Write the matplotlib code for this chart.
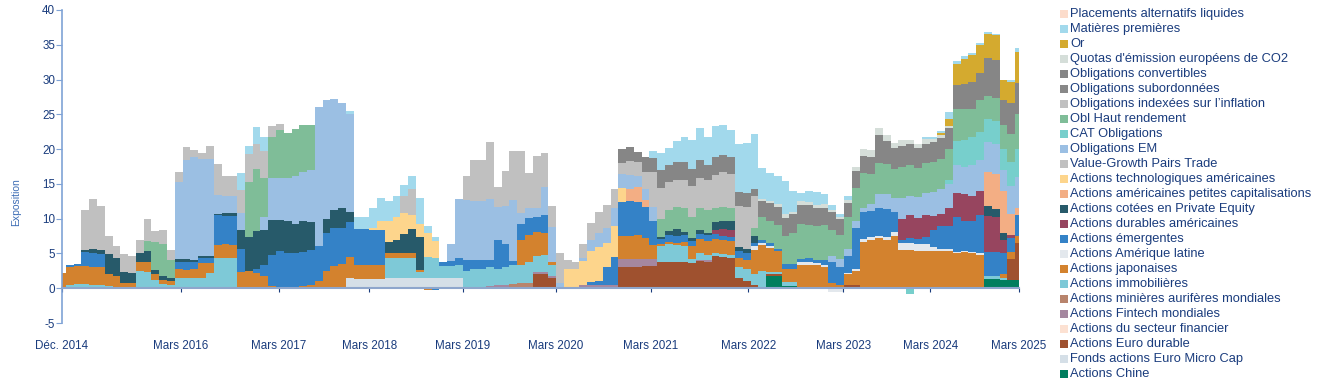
import numpy as np
import matplotlib.pyplot as plt
from matplotlib.patches import Rectangle

# Monthly exposure per asset class, month 0 = Dec. 2014 ... month 123 = Mars 2025
tick_pos = [0, 15.3, 27.9, 39.5, 51.5, 63.5, 75.7, 88.2, 100.4, 111.6, 123]
tick_labels = ['Déc. 2014', 'Mars 2016', 'Mars 2017', 'Mars 2018', 'Mars 2019', 'Mars 2020',
               'Mars 2021', 'Mars 2022', 'Mars 2023', 'Mars 2024', 'Mars 2025']

actions_chine = [
    0, 0, 0, 0, 0, 0, 0, 0, 0, 0, 0, 0, 0, 0, 0, 0, 0, 0, 0, 0,
    0, 0, 0, 0, 0, 0, 0, 0, 0, 0, 0, 0, 0, 0, 0, 0, 0, 0, 0, 0,
    0, 0, 0, 0, 0, 0, 0, 0, 0, 0, 0, 0, 0, 0, 0, 0, 0, 0, 0, 0,
    0, 0, 0, 0, 0, 0, 0, 0, 0, 0, 0, 0, 0, 0, 0, 0, 0, 0, 0, 0,
    0, 0, 0, 0, 0, 0, 0, 0, 0, 0, 0, 1.8, 1.8, .3, .3, 0, 0, 0, 0, 0,
    0, 0, 0, 0, 0, 0, 0, 0, 0, 0, 0, 0, 0, 0, 0, 0, 0, 0, 0, 1.3,
    1.3, 1.2, 1.2, 1.2]
micro_cap = [
    0, 0, 0, 0, 0, 0, 0, 0, 0, 0, 0, 0, 0, 0, 0, 0, 0, 0, 0, 0,
    0, 0, 0, 0, 0, 0, 0, 0, 0, 0, 0, 0, 0, 0, 0, 0, 0, 1.5, 1.3, 1.3,
    1.3, 1.3, 1.5, 1.5, 1.5, 1.5, 1.5, 1.5, 1.5, 1.5, 1.5, 1.5, 0, 0, 0, 0, 0, 0, 0, 0,
    0, 0, 0, 0, 0, 0, 0, 0, 0, 0, 0, 0, 0, 0, 0, 0, 0, 0, 0, 0,
    0, 0, 0, 0, 0, 0, 0, 0, 0, 0, 0, 0, 0, 0, 0, 0, 0, 0, 0, 0,
    0, 0, 0, 0, 0, 0, 0, 0, 0, 0, 0, 0, 0, 0, 0, 0, 0, 0, 0, 0,
    0, 0, 0, 0]
euro_durable = [
    0, 0, 0, 0, 0, 0, 0, 0, 0, 0, 0, 0, 0, 0, 0, 0, 0, 0, 0, 0,
    0, 0, 0, 0, 0, 0, 0, 0, 0, 0, 0, 0, 0, 0, 0, 0, 0, 0, 0, 0,
    0, 0, 0, 0, 0, 0, 0, 0, 0, 0, 0, 0, 0, 0, 0, 0, 0, 0, 0, 0,
    0, 2.0, 2.0, 1.5, 0, 0, 0, 0, 0, 0, 0, 0, 3.0, 3.0, 3.0, 3.2, 3.2, 3.7, 3.8, 3.8,
    3.7, 3.6, 3.9, 3.8, 4.6, 4.5, 4.3, 1.5, 1.0, .5, 0, .2, .2, 0, 0, 0, 0, 0, 0, 0,
    0, .5, .5, .2, 0, .2, 0, 0, 0, 0, 0, 0, 0, 0, 0, 0, 0, 0, 0, 0,
    0, 0, 3.0, 5.3]
secteur_financier = [
    0, 0, 0, 0, 0, 0, 0, 0, 0, 0, 0, 0, 0, 0, 0, 0, 0, 0, 0, 0,
    0, 0, 0, 0, 0, 0, 0, 0, 0, 0, 0, 0, 0, 0, 0, 0, 0, 0, 0, 0,
    0, 0, 0, 0, 0, 0, 0, 0, 0, 0, 0, 0, 0, 0, 0, 0, 0, 0, 0, 0,
    0, 0, 0, 0, 0, 0, 0, 0, 0, 0, 0, 0, 0, 0, 0, 0, 0, 0, 0, 0,
    0, 0, 0, 0, 0, 0, 0, 0, 0, 0, 0, 0, 0, 0, 0, 0, 0, 0, 0, 0,
    0, 0, 0, 0, 0, 0, 0, 0, 0, 0, 0, 0, 0, 0, 0, 0, 0, 0, 0, 0,
    0, 0, 0, 0]
fintech = [
    0, 0, 0, 0, 0, 0, 0, 0, 0, 0, 0, 0, 0, 0, 0, 0, 0, 0, 0, 0,
    0, 0, 0, 0, 0, 0, 0, 0, 0, 0, 0, 0, 0, 0, 0, 0, 0, 0, 0, 0,
    0, 0, 0, 0, 0, 0, 0, 0, 0, 0, 0, 0, 0, 0, 0, .3, .5, .5, 0, 0,
    0, .3, .3, .3, 0, 0, 0, .4, .5, .5, .5, .5, 1.2, 1.2, 1.2, 1.0, 1.0, 0, 0, 0,
    0, 0, .2, .2, 0, 0, 0, 0, 0, 0, 0, 0, 0, 0, 0, 0, 0, 0, 0, 0,
    0, 0, 0, 0, 0, 0, 0, 0, 0, 0, 0, 0, 0, 0, 0, 0, 0, 0, 0, 0,
    0, 0, 0, 0]
minieres = [
    0, 0, 0, 0, 0, 0, 0, 0, 0, 0, 0, 0, 0, 0, 0, 0, 0, 0, 0, 0,
    0, 0, 0, 0, 0, 0, 0, 0, 0, 0, 0, 0, 0, 0, 0, 0, 0, 0, 0, 0,
    0, 0, 0, 0, 0, 0, 0, 0, 0, 0, 0, 0, 0, 0, 0, 0, 0, 0, .6, .8,
    .8, 0, 0, 0, 0, 0, 0, 0, 0, 0, 0, 0, 0, 0, 0, 0, 0, 0, 0, 0,
    0, 0, 0, 0, 0, 0, 0, 0, 0, 0, 0, 0, 0, 0, 0, 0, 0, 0, 0, 0,
    0, 0, 0, 0, 0, 0, 0, 0, 0, 0, 0, 0, 0, 0, 0, 0, 0, 0, 0, 0,
    0, 0, 0, 0]
immobilieres = [
    0, .5, .6, .6, .5, .5, .3, .2, 0, 0, 2.5, 2.4, 1.2, .6, .5, 1.5, 1.5, 1.5, 1.5, 2.2,
    4.3, 4.4, 4.3, 0, 0, 0, 0, 0, 0, 0, 0, 0, 0, 0, 0, 0, 0, 0, 0, 0,
    0, 0, 2.8, 2.9, 2.9, 2.9, .8, 3.0, 2.8, 1.7, 1.7, 1.8, 2.5, 2.7, 2.8, 2.7, 2.2, 2.5, 2.8, 2.6,
    3.0, 2.3, 2.5, 1.5, 0, 0, 0, 0, 0, 0, 0, 0, 0, 0, 0, 0, 0, 2.3, 2.5, 2.4,
    2.4, .6, 1.0, .8, .5, .4, .5, 1.5, 1.8, 1.5, 2.5, .3, .3, .6, .6, 0, 0, 0, 0, 0,
    0, 0, 0, 0, 0, 0, 0, 0, 0, 0, 0, 0, 0, 0, 0, 0, 0, 0, 0, .4,
    .4, .3, 0, 0]
japonaises = [
    2.2, 2.6, 2.6, 2.6, 2.6, 2.6, 1.7, 1.6, .8, .8, 1.2, 1.3, .8, .6, .6, 1.2, 1.1, 1.2, 2.1, 1.4,
    1.9, 1.9, 1.9, 2.3, 2.5, 2.2, 1.8, .3, 0, 0, 0, .3, .5, 1.0, 2.5, 3.2, 3.5, 3.0, 2.1, 2.1,
    2.0, 2.0, .8, .6, .6, .6, .3, -.3, 0, 0, 0, 0, 0, 0, 0, 0, 0, 0, 0, 3.5,
    3.8, 3.5, 3.2, .5, 0, 0, 0, 0, 0, 0, 0, 0, 3.3, 3.3, 3.4, 3.0, 2.0, .3, .3, .3,
    .5, 1.8, 2.0, 2.0, 2.0, 2.0, 2.0, 1.3, 1.3, 3.5, 3.7, 3.5, 3.0, 1.8, 1.8, 3.4, 3.4, 3.3, 3.0, .8,
    .4, 1.5, 2.0, 6.5, 7.0, 7.0, 7.0, 7.5, 5.5, 5.5, 5.4, 5.3, 5.4, 5.3, 5.4, 5.0, 5.2, 5.0, 4.8, 0,
    0, .5, 1.0, 1.0]
amerique_latine = [
    0, 0, 0, 0, 0, 0, 0, 0, 0, 0, 0, 0, 0, 0, 0, 0, 0, 0, 0, 0,
    0, 0, 0, 0, 0, 0, 0, 0, 0, 0, 0, 0, 0, 0, 0, 0, 0, 0, 0, 0,
    0, 0, 0, 0, 0, 0, 0, 0, 0, 0, 0, 0, 0, 0, 0, 0, 0, 0, 0, 0,
    0, 0, 0, 0, 0, 0, 0, 0, 0, 0, 0, 0, 0, 0, 0, 0, 0, 0, 0, 0,
    0, 0, 0, 0, 0, 0, 0, 0, 0, .5, .3, .3, 0, 0, 0, .3, .3, .3, .3, -.6,
    -.5, .2, .3, .4, .3, .3, .4, .6, 1.0, 1.0, .9, 1.0, .5, .4, .3, .2, .2, .2, .2, 0,
    0, 0, 0, 0]
emergentes = [
    0, .3, .3, 2.0, 2.0, 1.8, 0, 0, 0, 0, 0, 0, 0, 0, 0, 1.0, 1.2, 1.0, .8, .8,
    4.3, 4.1, 4.2, 3.4, 0, .5, 1.5, 4.5, 5.3, 5.0, 5.0, 4.9, 5.0, 5.0, 5.5, 5.5, 5.2, 5.0, 5.1, 5.1,
    5.0, 5.0, 0, 0, 0, 0, 0, 0, -.3, .6, .7, 1.0, 1.5, 1.3, 1.2, 1.0, 4.2, 3.3, .5, 2.4,
    2.5, 2.2, 2.5, 0, 0, 0, 0, 0, .4, .6, 2.5, 4.0, 4.9, 5.0, 4.8, 4.5, 3.5, .8, 1.0, 1.0,
    1.0, .8, .7, .8, .7, .6, .6, 1.0, 1.0, .5, .4, .4, .3, .8, .8, .5, .6, .5, .8, 3.0,
    2.6, 2.5, 5.8, 3.8, 3.8, 4.0, 4.0, 2.8, .5, .7, .8, 1.0, 2.5, 3.2, 3.3, 5.0, 4.3, 4.5, 5.5, 3.5,
    3.5, 3.0, 2.0, 3.0]
durables_us = [
    0, 0, 0, 0, 0, 0, 0, 0, 0, 0, 0, 0, 0, 0, 0, 0, 0, 0, 0, 0,
    0, 0, 0, 0, 0, 0, 0, 0, 0, 0, 0, 0, 0, 0, 0, 0, 0, 0, 0, 0,
    0, 0, 0, 0, 0, 0, 0, 0, 0, 0, 0, 0, 0, 0, 0, 0, 0, 0, 0, 0,
    0, 0, 0, 0, 0, 0, 0, 0, 0, 0, 0, 0, 0, 0, 0, 0, 0, 0, 0, 0,
    0, 0, 0, 0, .5, 1.0, 1.0, 0, 0, 0, 0, 0, 0, 0, 0, 0, 0, 0, 0, 0,
    0, 0, 0, 0, 0, 0, 0, 0, 3.0, 3.3, 3.0, 3.2, 2.0, 1.8, 2.5, 3.5, 3.8, 3.5, 3.5, 5.2,
    5.0, 2.0, .5, 0]
private_equity = [
    0, 0, 0, .3, .5, .6, 2.9, 2.6, 1.5, 1.4, 1.3, 1.6, .6, .5, .4, .5, .4, .3, .2, .2,
    .2, .4, .4, 2.6, 4.8, 5.5, 5.0, 5.0, 4.5, 4.6, 4.3, 4.5, 4.0, 0, 2.0, 2.5, 2.8, 1.5, 0, 0,
    0, 0, 1.5, 2.0, 2.8, 3.5, 4.8, 0, 0, 0, 0, 0, 0, 0, 0, 0, 0, 0, 0, 0,
    0, 0, 0, 0, 0, 0, 0, 0, 0, 0, 0, 0, 0, 0, 0, 0, 0, .3, .6, 1.0,
    .5, .4, .5, .4, 1.2, 1.2, 1.2, .6, .6, 1.0, 0, 0, 0, 0, 0, 0, 0, 0, 0, 0,
    0, 0, 0, 0, 0, 0, 0, 0, 0, 0, 0, 0, 0, 0, 0, 0, 0, 0, 0, 1.4,
    1.2, 1.0, 0, 0]
small_caps_us = [
    0, 0, 0, 0, 0, 0, 0, 0, 0, 0, 0, 0, 0, 0, 0, 0, 0, 0, 0, 0,
    0, 0, 0, 0, 0, 0, 0, 0, 0, 0, 0, 0, 0, 0, 0, 0, 0, 0, 0, 0,
    0, 0, 0, 0, 0, 0, 0, 0, 0, 0, 0, 0, 0, 0, 0, 0, 0, 0, 0, 0,
    0, 0, 0, 0, 0, 0, 0, 0, 0, 0, 0, 0, 0, 1.8, 2.2, 1.0, 0, 0, 0, 0,
    0, 0, 0, 0, 0, 0, 0, 0, 0, 0, 0, 0, 0, 0, 0, 0, 0, 0, 0, 0,
    0, 0, 0, 0, 0, 0, 0, 0, 0, 0, 0, 0, 0, 0, 0, 0, 0, 0, 0, 4.9,
    5.0, 6.0, 3.0, 1.0]
tech_us = [
    0, 0, 0, 0, 0, 0, 0, 0, 0, 0, 0, 0, 0, 0, 0, 0, 0, 0, 0, 0,
    0, 0, 0, 0, 0, 0, 0, 0, 0, 0, 0, 0, 0, 0, 0, 0, 0, 0, 0, 0,
    .3, 1.3, 3.0, 3.2, 3.0, 2.0, 1.8, 3.5, 2.5, 0, 0, 0, 0, 0, 0, 0, 0, 0, 0, 0,
    0, 0, 0, 0, 0, 2.8, 2.7, 3.5, 4.5, 4.8, 3.5, 4.5, 2.0, 0, 0, 0, 0, 0, 0, 0,
    0, 0, 0, 0, 0, 0, 0, 0, 0, 0, 0, 0, 0, 0, 0, 0, 0, 0, 0, 0,
    0, 0, 0, 0, 0, 0, 0, 0, 0, 0, 0, 0, 0, 0, 0, 0, 0, 0, 0, 0,
    0, 0, 0, 0]
value_growth = [
    0, 0, 0, 5.8, 7.2, 6.3, 2.6, 1.6, 2.6, 2.5, 2.0, 0, 0, 0, 0, 0, 0, 0, 0, 0,
    0, 0, 0, 0, 0, 0, 0, 0, 0, 0, 0, 0, 0, 0, 0, 0, 0, 0, 0, 0,
    0, 0, 0, 0, 0, 0, 0, 0, 0, 0, 0, 0, 0, 0, 0, 0, 0, 0, 0, 0,
    0, 0, 0, 0, 0, 0, 0, 0, 0, 0, 0, 0, 0, 0, 0, 0, 0, 0, 0, 0,
    0, 0, 0, 0, 0, 0, 0, 0, 0, 0, 0, 0, 0, 0, 0, 0, 0, 0, 0, 0,
    0, 0, 0, 0, 0, 0, 0, 0, 0, 0, 0, 0, 0, 0, 0, 0, 0, 0, 0, 0,
    0, 0, 0, 0]
obligations_em = [
    0, 0, 0, 0, 0, 0, 0, 0, 0, 0, 0, 0, 0, 0, 0, 11.0, 14.3, 14.9, 14.0, 14.0,
    2.7, 2.5, 2.4, 2.5, 0, 0, 2.0, 6.0, 6.0, 6.2, 6.8, 7.0, 7.5, 20.0, 17.0, 16.0, 15.2, 14.0, 0, 0,
    0, 0, 0, 0, 0, 0, 0, 0, 0, 0, 2.5, 8.5, 8.7, 8.5, 8.5, 8.8, 4.8, 5.5, 8.8, 1.5,
    1.5, 1.2, 4.0, 5.0, .8, 0, 0, .5, 1.5, 2.0, 2.2, 2.5, 2.0, 2.0, 1.5, 1.5, 2.0, 0, 0, 0,
    0, 0, 0, 0, 0, 0, 0, 0, 0, 0, 0, 0, 0, 0, 0, 0, 0, 0, 0, .8,
    1.2, 1.0, 1.0, .6, 1.0, 2.0, 2.2, 2.0, 3.0, 2.8, 3.0, 3.2, 3.5, 3.5, 3.5, 4.0, 4.0, 4.5, 4.5, 4.3,
    4.3, 3.0, 4.0, 4.5]
cat_obligations = [
    0, 0, 0, 0, 0, 0, 0, 0, 0, 0, 0, 0, 0, 0, 0, 0, 0, 0, 0, 0,
    0, 0, 0, 0, 0, 0, 0, 0, 0, 0, 0, 0, 0, 0, 0, 0, 0, 0, 0, 0,
    0, 0, 0, 0, 0, 0, 0, 0, 0, 0, 0, 0, 0, 0, 0, 0, 0, 0, 0, 0,
    0, 0, 0, 0, 0, 0, 0, 0, 0, 0, 0, 0, 0, 0, 0, 0, 0, 0, 0, 0,
    0, 0, 0, 0, 0, 0, 0, 0, 0, 0, 0, 0, 0, 0, 0, 0, 0, 0, 0, 0,
    0, 0, 0, 0, 0, 0, 0, 0, 0, -.9, 0, 0, 0, 0, .5, 3.5, 3.8, 4.0, 4.0, 3.3,
    3.3, 3.0, 3.5, 4.0]
haut_rendement = [
    0, 0, 0, 0, 0, 0, 0, 0, 0, 0, 0, 1.5, 4.0, 4.6, 2.5, 0, 0, 0, 0, 0,
    0, 0, 0, 0, 8.0, 9.0, 5.5, 6.0, 7.0, 6.5, 6.8, 6.8, 6.5, 0, 0, 0, 0, 0, 0, 0,
    0, 0, 0, 0, 0, 0, 0, 0, 0, 0, 0, 0, 0, 0, 0, 0, 0, 0, 0, 0,
    0, 0, 0, 0, 0, 0, 0, 0, 0, 0, 0, 0, 0, 0, 0, 0, 0, 2.5, 3.0, 3.2,
    3.5, 3.0, 3.3, 3.2, 2.0, 2.0, 2.0, 0, 0, 1.2, 3.4, 3.2, 3.5, 4.0, 4.5, 5.0, 4.8, 4.8, 5.0, 3.8,
    3.5, 4.5, 4.8, 5.0, 4.3, 4.5, 4.3, 4.2, 4.5, 4.4, 4.2, 4.3, 4.3, 4.4, 4.5, 4.5, 4.5, 4.0, 4.5, 3.3,
    3.3, 3.5, 4.0, 5.0]
indexees_inflation = [
    0, 0, 0, 0, 0, 0, 0, 0, 0, 0, 0, 3.2, 1.6, 2.0, 1.5, 1.5, 1.8, 1.0, .8, 1.8,
    4.4, 2.9, 2.9, 3.3, 4.0, 3.5, 4.0, 1.5, .8, 0, 0, 0, 0, 0, 0, 0, 0, 0, 0, 0,
    0, 0, 0, 0, 2.5, 3.8, 0, 0, 0, 0, 0, 0, 3.5, 6.0, 6.0, 8.2, 2.8, 5.0, 7.0, 9.0,
    5.0, 7.5, 5.0, 3.0, 4.2, 1.2, 1.1, 2.0, 2.5, 3.0, 3.2, 2.8, 1.6, 2.0, 2.0, 2.5, 5.0, 4.5, 4.0, 3.8,
    4.0, 4.5, 4.3, 4.3, 4.8, 5.0, 4.8, 5.9, 6.0, 4.5, 0, 0, 0, 0, 0, 0, 0, 0, 0, 0,
    0, 0, 0, 0, 0, 0, 0, 0, 0, 0, 0, 0, 0, 0, 0, 0, 0, 0, 0, 0,
    0, 0, 0, 0]
subordonnees = [
    0, 0, 0, 0, 0, 0, 0, 0, 0, 0, 0, 0, 0, 0, 0, 0, 0, 0, 0, 0,
    0, 0, 0, 0, 0, 0, 0, 0, 0, 0, 0, 0, 0, 0, 0, 0, 0, 0, 0, 0,
    0, 0, 0, 0, 0, 0, 0, 0, 0, 0, 0, 0, 0, 0, 0, 0, 0, 0, 0, 0,
    0, 0, 0, 0, 0, 0, 0, 0, 0, 0, 0, 0, 0, 0, 0, 0, 0, 0, 0, 0,
    0, 0, 0, 0, 0, 0, 0, 0, 0, 0, 0, 0, 0, 0, 0, 0, 0, 0, 0, 0,
    0, 0, 0, 0, 0, 0, 0, 0, 0, 0, 0, 0, 0, 0, 0, 0, 0, 0, 0, 0,
    0, 0, 0, 0]
convertibles = [
    0, 0, 0, 0, 0, 0, 0, 0, 0, 0, 0, 0, 0, 0, 0, 0, 0, 0, 0, 0,
    0, 0, 0, 0, 0, 0, 0, 0, 0, 0, 0, 0, 0, 0, 0, 0, 0, 0, 0, 0,
    0, 0, 0, 0, 0, 0, 0, 0, 0, 0, 0, 0, 0, 0, 0, 0, 0, 0, 0, 0,
    0, 0, 0, 0, 0, 0, 0, 0, 0, 0, 0, 0, 2.0, 2.0, 1.5, 2.2, 2.0, 2.6, 2.5, 2.6,
    2.6, 2.4, 2.5, 2.2, 2.5, 2.4, 2.4, 2.0, 2.0, 1.0, 2.2, 2.5, 2.6, 2.6, 2.6, 2.8, 2.8, 2.6, 2.5, 2.5,
    2.2, 2.0, 2.5, 2.5, 2.5, 4.0, 3.2, 3.0, 3.0, 3.0, 2.8, 2.8, 2.8, 3.0, 3.0, 3.5, 3.6, 4.0, 4.0, 5.5,
    5.5, 3.5, 4.5, 4.5]
quotas_co2 = [
    0, 0, 0, 0, 0, 0, 0, 0, 0, 0, 0, 0, 0, 0, 0, 0, 0, 0, 0, 0,
    0, 0, 0, 0, 0, 0, 0, 0, 0, 0, 0, 0, 0, 0, 0, 0, 0, 0, 0, 0,
    0, 0, 0, 0, 0, 0, 0, 0, 0, 0, 0, 0, 0, 0, 0, 0, 0, 0, 0, 0,
    0, 0, 0, 0, 0, 0, 0, 0, 0, 0, 0, 0, 0, 0, 0, 0, 0, 0, 0, 0,
    0, 0, 0, 0, 0, 0, 0, 0, 0, 0, .3, .4, .4, .5, .4, .5, .5, .5, .5, .4,
    .3, .5, .6, 1.0, 1.0, 1.0, 1.0, .8, .8, .6, .6, .6, .5, .4, .3, 0, 0, 0, 0, 0,
    0, 0, 0, 0]
gold = [
    0, 0, 0, 0, 0, 0, 0, 0, 0, 0, 0, 0, 0, 0, 0, 0, 0, 0, 0, 0,
    0, 0, 0, 0, 0, 0, 0, 0, 0, 0, 0, 0, 0, 0, 0, 0, 0, 0, 0, 0,
    0, 0, 0, 0, 0, 0, 0, 0, 0, 0, 0, 0, 0, 0, 0, 0, 0, 0, 0, 0,
    0, 0, 0, 0, 0, 0, 0, 0, 0, 0, 0, 0, 0, 0, 0, 0, 0, 0, 0, 0,
    0, 0, 0, 0, 0, 0, 0, 0, 0, 0, 0, 0, 0, 0, 0, 0, 0, 0, 0, 0,
    0, 0, 0, 0, 0, 0, 0, 0, 0, 0, 0, 0, 0, .3, 1.0, 3.0, 3.5, 3.8, 4.0, 3.4,
    3.6, 3.0, 3.0, 4.5]
matieres_premieres = [
    0, 0, 0, 0, 0, 0, 0, 0, 0, 0, 0, 0, 0, 0, 0, 0, 0, 0, 0, 0,
    0, 0, 0, 2.5, 1.2, 2.5, 2.0, 0, 0, 0, 0, 0, 0, 0, 0, 0, 0, .5, 1.8, 1.7,
    3.0, 3.4, 3.0, 3.0, 1.5, 1.8, 3.8, 1.0, .5, 0, 0, 0, 0, 0, 0, 0, 0, 0, 0, 0,
    0, 0, 0, 0, 0, 0, 0, 0, 0, 0, 0, 0, 0, 0, 0, 0, 1.0, 2.5, 2.5, 3.0,
    3.5, 4.2, 4.7, 4.0, 4.5, 4.3, 4.0, 7.0, 7.2, 8.0, 4.5, 4.0, 4.0, 4.8, 3.0, 1.2, 1.6, 1.8, 1.4, .6,
    .5, .5, 0, 0, 0, 0, 0, 0, 0, 0, 0, .3, .3, .3, 1.0, .5, .5, .3, .2, .3,
    .2, 0, .3, .5]
alternatifs = [
    0, 0, 0, 0, 0, 0, 0, 0, 0, 0, 0, 0, 0, 0, 0, 0, 0, 0, 0, 0,
    0, 0, 0, 0, 0, 0, 0, 0, 0, 0, 0, 0, 0, 0, 0, 0, 0, 0, 0, 0,
    0, 0, 0, 0, 0, 0, 0, 0, 0, 0, 0, 0, 0, 0, 0, 0, 0, 0, 0, 0,
    0, 0, 0, 0, 0, 0, 0, 0, 0, 0, 0, 0, 0, 0, 0, 0, 0, 0, 0, 0,
    0, 0, 0, 0, 0, 0, 0, 0, 0, 0, 0, 0, 0, 0, 0, 0, 0, 0, 0, 0,
    0, 0, 0, 0, 0, 0, 0, 0, 0, 0, 0, 0, 0, 0, 0, 0, 0, 0, 0, 0,
    0, 0, 0, 0]

# stacking order, bottom -> top (legend shows it top -> bottom)
series = [
    ('Actions Chine', actions_chine, '#017E5E'),
    ('Fonds actions Euro Micro Cap', micro_cap, '#D5DFE7'),
    ('Actions Euro durable', euro_durable, '#9F512F'),
    ('Actions du secteur financier', secteur_financier, '#FCE1D2'),
    ('Actions Fintech mondiales', fintech, '#A5879F'),
    ('Actions minières aurifères mondiales', minieres, '#B8846C'),
    ('Actions immobilières', immobilieres, '#7EC9D7'),
    ('Actions japonaises', japonaises, '#D3822E'),
    ('Actions Amérique latine', amerique_latine, '#E3E8ED'),
    ('Actions émergentes', emergentes, '#3482C7'),
    ('Actions durables américaines', durables_us, '#97455F'),
    ('Actions cotées en Private Equity', private_equity, '#275A6A'),
    ('Actions américaines petites capitalisations', small_caps_us, '#F3AE84'),
    ('Actions technologiques américaines', tech_us, '#FDD58C'),
    ('Value-Growth Pairs Trade', value_growth, '#C0C0C0'),
    ('Obligations EM', obligations_em, '#9BBFE3'),
    ('CAT Obligations', cat_obligations, '#77CFCC'),
    ('Obl Haut rendement', haut_rendement, '#7FBD98'),
    ('Obligations indexées sur l’inflation', indexees_inflation, '#C0C0C0'),
    ('Obligations subordonnées', subordonnees, '#888888'),
    ('Obligations convertibles', convertibles, '#868686'),
    ("Quotas d'émission européens de CO2", quotas_co2, '#D5DED9'),
    ('Or', gold, '#D4AA2F'),
    ('Matières premières', matieres_premieres, '#A2D9EC'),
    ('Placements alternatifs liquides', alternatifs, '#FCDCCB'),
]

text_col = '#1A3C7D'
plt.rcParams['font.family'] = ['Liberation Sans', 'DejaVu Sans']
plt.rcParams['axes.unicode_minus'] = False

n = len(actions_chine)
months = np.arange(n)
for name, vals, col in series:
    assert len(vals) == n, name

fig = plt.figure(figsize=(13.25, 3.92), dpi=100)
ax = fig.add_axes([62 / 1325, 1 - 323 / 392, (1019 - 62) / 1325, 313 / 392])

vals = np.array([s[1] for s in series], dtype=float)
pos = np.clip(vals, 0, None)
neg = np.clip(vals, None, 0)
pos_top = np.cumsum(pos, axis=0)
neg_top = np.cumsum(neg, axis=0)

# paint from the top layer down, each filled from zero, so no seams show
for k in range(len(series) - 1, -1, -1):
    col = series[k][2]
    if pos[k].any():
        ax.fill_between(months, 0, pos_top[k], step='mid', facecolor=col, lw=0)
    if neg[k].any():
        ax.fill_between(months, 0, neg_top[k], step='mid', facecolor=col, lw=0)

ax.set_xlim(0, n - 1)
ax.set_ylim(-5, 40)
ax.set_yticks(range(-5, 41, 5))
ax.set_xticks(tick_pos)
ax.set_xticklabels(tick_labels)

for s in ['top', 'right']:
    ax.spines[s].set_visible(False)
ax.spines['left'].set_color('#7FA3D6')
ax.spines['left'].set_linewidth(1.2)
ax.spines['bottom'].set_position(('data', 0))
ax.spines['bottom'].set_color('#8EA6CC')
ax.spines['bottom'].set_linewidth(1.5)
ax.tick_params(axis='y', length=4, color='#7FA3D6', labelcolor=text_col, labelsize=8.4, pad=1)
ax.tick_params(axis='x', length=3, color=text_col, labelcolor=text_col, labelsize=8.4, pad=34)

fig.text(16 / 1325, 1 - 202 / 392, 'Exposition', rotation=90, ha='center', va='center',
         fontsize=7.5, color='#3D6DB5')

# legend, drawn top -> bottom
for j, (name, _, col) in enumerate(series[::-1]):
    yc = 14 + 15 * j
    fig.patches.append(Rectangle((1059.5 / 1325, 1 - (yc + 4) / 392), 8 / 1325, 8 / 392,
                                 transform=fig.transFigure, facecolor=col, edgecolor='none'))
    fig.text(1070 / 1325, 1 - yc / 392, name, ha='left', va='center', fontsize=9.3, color=text_col)

fig.savefig('out.png', dpi=100)
